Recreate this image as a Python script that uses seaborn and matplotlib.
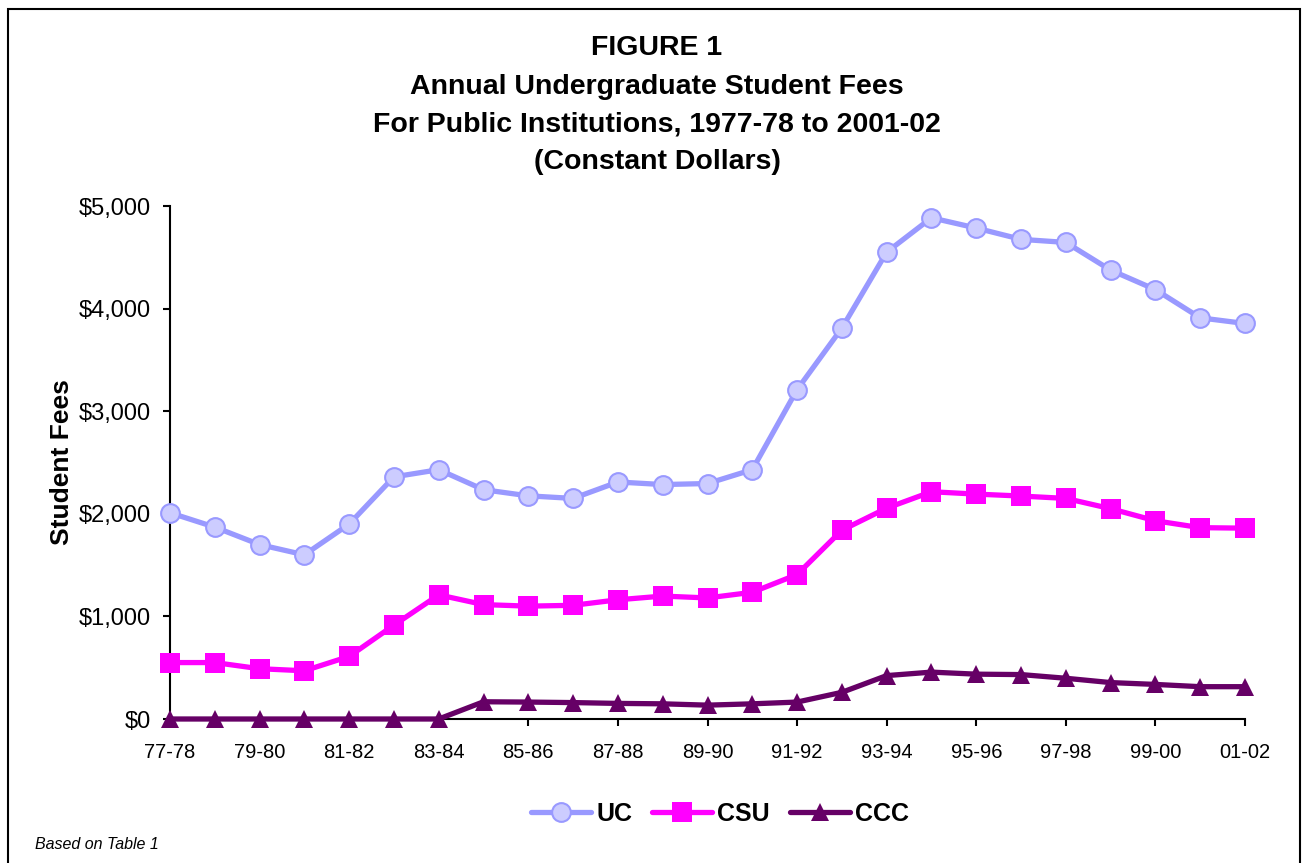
import numpy as np
import pandas as pd
import matplotlib
matplotlib.use("Agg")
import matplotlib.pyplot as plt
import seaborn as sns
from matplotlib.patches import Rectangle
from matplotlib.ticker import FuncFormatter

# ---------------- data ----------------
years = ["77-78", "78-79", "79-80", "80-81", "81-82", "82-83", "83-84", "84-85",
         "85-86", "86-87", "87-88", "88-89", "89-90", "90-91", "91-92", "92-93",
         "93-94", "94-95", "95-96", "96-97", "97-98", "98-99", "99-00", "00-01", "01-02"]
uc = [2010, 1870, 1700, 1600, 1900, 2360, 2430, 2235, 2175, 2150, 2310, 2285, 2295,
      2430, 3210, 3810, 4550, 4885, 4785, 4675, 4645, 4375, 4185, 3910, 3855]
csu = [550, 550, 490, 470, 610, 915, 1210, 1115, 1100, 1108, 1162, 1198, 1180,
       1235, 1408, 1840, 2055, 2215, 2192, 2173, 2150, 2050, 1932, 1865, 1860]
ccc = [0, 0, 0, 0, 0, 0, 0, 168, 165, 160, 152, 148, 135,
       148, 165, 260, 423, 457, 437, 433, 397, 355, 337, 315, 315]
series_names = ["UC", "CSU", "CCC"]
y_ticks = [0, 1000, 2000, 3000, 4000, 5000]
title_lines = ["FIGURE 1",
               "Annual Undergraduate Student Fees",
               "For Public Institutions, 1977-78 to 2001-02",
               "(Constant Dollars)"]
y_label = "Student Fees"
note = "Based on Table 1"

# ---------------- style ----------------
sns.set_style("ticks")
plt.rcParams['font.family'] = ['Liberation Sans', 'DejaVu Sans']
plt.rcParams['text.color'] = 'black'
plt.rcParams['axes.labelcolor'] = 'black'

df = pd.DataFrame({
    "Year": years * 3,
    "idx": list(range(len(years))) * 3,
    "Fees": uc + csu + ccc,
    "Series": [s for s in series_names for _ in years],
})

W, H = 1305, 863
fig = plt.figure(figsize=(W / 100, H / 100), dpi=100)
fig.patch.set_facecolor("white")

left, right, top, bottom = 170, 1245, 206, 719
ax = fig.add_axes([left / W, 1 - bottom / H, (right - left) / W, (bottom - top) / H])

styles = {
    "UC": dict(color="#9999FF", marker="o", markersize=13.5, markerfacecolor="#CCCCFF",
               markeredgecolor="#9999FF", markeredgewidth=1.5),
    "CSU": dict(color="#FF00FF", marker="s", markersize=14, markerfacecolor="#FF00FF",
                markeredgecolor="#FF00FF", markeredgewidth=0),
    "CCC": dict(color="#660066", marker="^", markersize=13.5, markerfacecolor="#660066",
                markeredgecolor="#660066", markeredgewidth=0),
}

for name in series_names:
    sub = df[df["Series"] == name]
    sns.lineplot(data=sub, x="idx", y="Fees", ax=ax, linewidth=3.8, label=name,
                 errorbar=None, clip_on=False, zorder=3, **styles[name])

if ax.get_legend() is not None:
    ax.get_legend().remove()

ax.set_xlim(0, len(years) - 1)
ax.set_ylim(0, 5000)
ax.set_xticks(list(range(0, len(years), 2)))
ax.set_xticklabels(years[::2])
ax.set_yticks(y_ticks)
ax.yaxis.set_major_formatter(FuncFormatter(lambda v, p: "${:,.0f}".format(v)))
ax.set_xlabel("")
ax.set_ylabel(y_label, fontsize=19, fontweight="bold", color="black")
ax.yaxis.set_label_coords((74 - left) / (right - left), 0.5)

for s in ["top", "right"]:
    ax.spines[s].set_visible(False)
for s in ["left", "bottom"]:
    ax.spines[s].set_linewidth(1.5)
    ax.spines[s].set_color("black")
ax.tick_params(axis="y", direction="out", length=5, width=1.5, labelsize=17, pad=9,
               colors="black", labelcolor="black")
ax.tick_params(axis="x", direction="out", length=5, width=1.5, labelsize=14.5, pad=12,
               colors="black", labelcolor="black")

# title
title_y = [48, 87, 124, 162]
for line, yy in zip(title_lines, title_y):
    fig.text(657 / W, 1 - yy / H, line, ha="center", va="center",
             fontsize=20.5, fontweight="bold", color="black")

# legend
handles, labels = ax.get_legend_handles_labels()
leg = fig.legend(handles, labels, loc="center", bbox_to_anchor=(720 / W, 1 - 814 / H),
                 ncol=3, frameon=False, prop={"size": 18, "weight": "bold"},
                 handlelength=2.4, handletextpad=0.2, columnspacing=0.8)
for t in leg.get_texts():
    t.set_color("black")

# note
fig.text(35 / W, 1 - 844 / H, note, ha="left", va="center", fontsize=11.5,
         style="italic", color="black")

# chart border
fig.add_artist(Rectangle((8 / W, -0.05), (1300 - 8) / W, 1.05 - 9 / H,
                         transform=fig.transFigure, fill=False, edgecolor="black",
                         linewidth=1.5))

fig.savefig("out.png", dpi=100)
